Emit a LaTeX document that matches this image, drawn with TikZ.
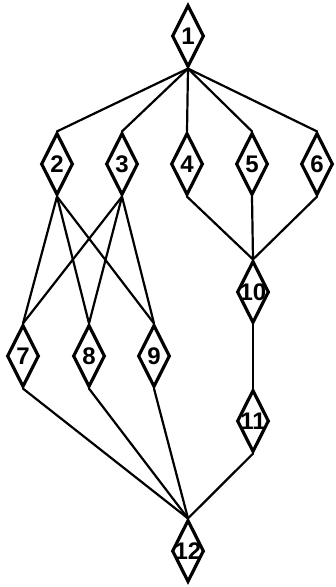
\documentclass[tikz,border=0pt]{standalone}
\usepackage{fontspec}
\setmainfont{Liberation Sans}
\usetikzlibrary{shapes.geometric}

\tikzset{
  blk/.style={diamond, draw, line width=3.2pt, inner sep=0pt,
    minimum width=32pt, minimum height=62pt,
    label={[font=\fontsize{24}{24}\selectfont\bfseries, inner sep=0pt]center:#1}},
  link/.style={line width=2.2pt, line cap=round}
}

\begin{document}
\begin{tikzpicture}[x=1pt, y=-1pt]
\useasboundingbox (0,0) rectangle (336,587);
% top
\node[blk=1] (n1) at (188,36) {};
% second row
\node[blk=2] (n2) at (57,164) {};
\node[blk=3] (n3) at (122,164) {};
\node[blk=4] (n4) at (187,164) {};
\node[blk=5] (n5) at (252,164) {};
\node[blk=6] (n6) at (317,164) {};
% right branch
\node[blk=10] (n10) at (253,292) {};
\node[blk=11] (n11) at (253,421) {};
% third row
\node[blk=7] (n7) at (23,356) {};
\node[blk=8] (n8) at (89,356) {};
\node[blk=9] (n9) at (154,356) {};
% bottom
\node[blk=12] (n12) at (188,551) {};
% connectors
\foreach \a/\b in {1/2, 1/3, 1/4, 1/5, 1/6,
                   2/7, 2/8, 2/9, 3/7, 3/8, 3/9,
                   4/10, 5/10, 6/10, 10/11,
                   7/12, 8/12, 9/12, 11/12}
  \draw[link] (n\a.south) -- (n\b.north);
\end{tikzpicture}
\end{document}
